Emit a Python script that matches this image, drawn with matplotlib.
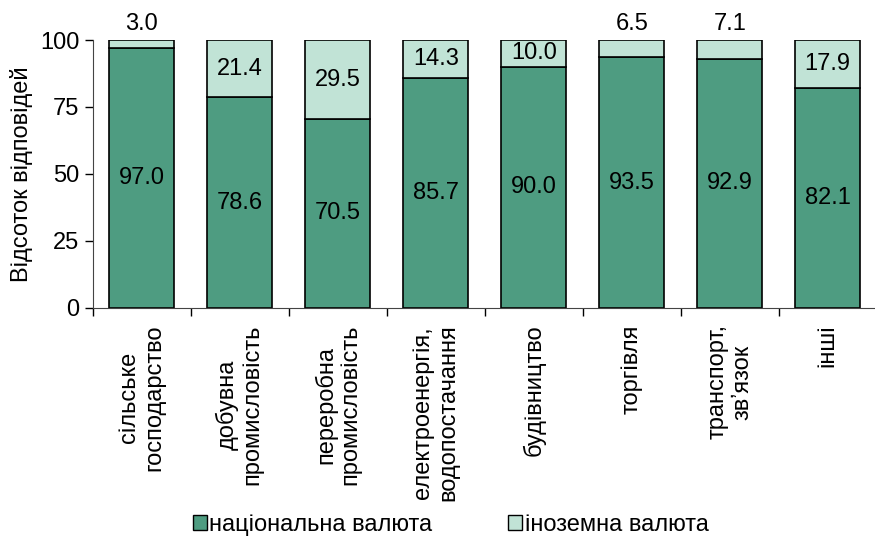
import numpy as np
import matplotlib.pyplot as plt
from matplotlib.patches import Patch

plt.rcParams['font.family'] = ['Liberation Sans', 'DejaVu Sans']

categories = ['сільське\nгосподарство', 'добувна\nпромисловість', 'переробна\nпромисловість',
              'електроенергія,\nводопостачання', 'будівництво', 'торгівля',
              'транспорт,\nзв\u02bcязок', 'інші']
national = [97.0, 78.6, 70.5, 85.7, 90.0, 93.5, 92.9, 82.1]
foreign = [3.0, 21.4, 29.5, 14.3, 10.0, 6.5, 7.1, 17.9]

dark = '#4E9C81'
light = '#C1E3D6'

fig = plt.figure(figsize=(8.75, 5.41), dpi=100)
ax = fig.add_axes([0.106, 0.431, 0.896, 0.495])

x = np.arange(len(categories))
w = 0.66
ax.bar(x, national, w, color=dark, edgecolor='black', linewidth=1.2)
ax.bar(x, foreign, w, bottom=national, color=light, edgecolor='black', linewidth=1.2)

fs = 17
for i in range(len(x)):
    ax.text(x[i], national[i] / 2, f'{national[i]:.1f}', ha='center', va='center', fontsize=fs)
    if foreign[i] < 8:
        ax.text(x[i], 103.7, f'{foreign[i]:.1f}', ha='center', va='baseline', fontsize=fs)
    else:
        ax.text(x[i], national[i] + foreign[i] / 2, f'{foreign[i]:.1f}', ha='center', va='center', fontsize=fs)

ax.set_xlim(-0.5, len(categories) - 0.5)
ax.set_ylim(0, 100)
ax.set_yticks([0, 25, 50, 75, 100])
ax.tick_params(axis='y', labelsize=fs, length=6, width=1)
ax.set_ylabel('Відсоток відповідей', fontsize=fs, labelpad=5)

ax.set_xticks(np.arange(-0.5, len(categories) + 0.5, 1))
ax.set_xticklabels([])
ax.tick_params(axis='x', length=6, width=1)
ax.spines['top'].set_visible(False)
ax.spines['right'].set_visible(False)
ax.spines['left'].set_color('#444444')
ax.spines['bottom'].set_color('#444444')

for i in range(len(x)):
    ax.annotate(categories[i], xy=(x[i], 0), xycoords=('data', 'axes fraction'),
                xytext=(0, -12), textcoords='offset points',
                rotation=90, ha='center', va='top', multialignment='center',
                fontsize=fs, linespacing=1.15)

handles = [Patch(facecolor=dark, edgecolor='black'), Patch(facecolor=light, edgecolor='black')]
fig.legend(handles, ['національна валюта', 'іноземна валюта'], loc='lower center',
           bbox_to_anchor=(0.515, -0.03), ncol=2, frameon=False, fontsize=fs,
           handlelength=0.6, handleheight=0.6, handletextpad=0.1, columnspacing=3.2)

fig.savefig('out.png', dpi=100)
